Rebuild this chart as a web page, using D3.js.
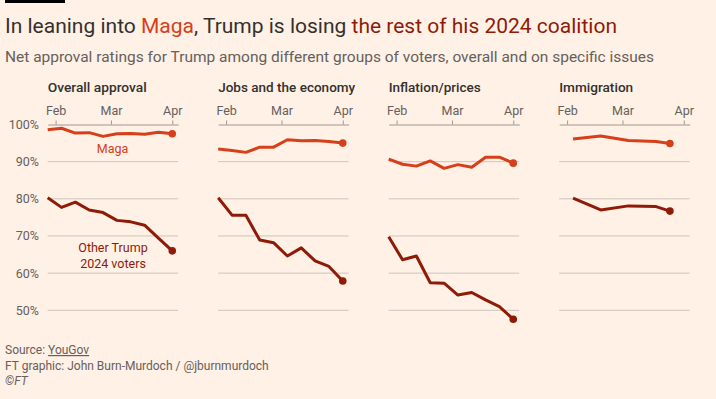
<!DOCTYPE html>
<html>
<head>
<meta charset="utf-8">
<script src="https://cdn.jsdelivr.net/npm/d3@7"></script>
<style>
  html, body { margin: 0; padding: 0; background: #fff1e5; }
  svg { display: block; }
  text { font-family: Roboto, "Noto Sans", sans-serif; }
</style>
</head>
<body>
<svg id="chart" width="716" height="399"></svg>
<script>
// ---------- data ----------
const panelTitles = ["Overall approval", "Jobs and the economy", "Inflation/prices", "Immigration"];
const weeklyDates = ["2025-01-28","2025-02-04","2025-02-11","2025-02-18","2025-02-25",
                     "2025-03-04","2025-03-11","2025-03-18","2025-03-25","2025-04-01"];
const immigrationDates = ["2025-02-04","2025-02-18","2025-03-04","2025-03-18","2025-03-25"];

const magaOverall   = [98.6, 99.0, 97.7, 97.8, 96.8, 97.5, 97.6, 97.4, 97.9, 97.5];
const otherOverall  = [80.3, 77.7, 79.1, 77.0, 76.3, 74.2, 73.8, 72.9, 69.4, 66.0];
const magaJobs      = [93.4, 93.0, 92.5, 93.9, 93.9, 95.9, 95.6, 95.7, 95.4, 95.0];
const otherJobs     = [80.3, 75.6, 75.6, 68.9, 68.2, 64.6, 66.8, 63.3, 61.8, 57.9];
const magaInflation = [90.7, 89.3, 88.8, 90.2, 88.2, 89.2, 88.5, 91.2, 91.2, 89.6];
const otherInflation= [69.8, 63.6, 64.6, 57.4, 57.3, 54.1, 54.8, 52.8, 51.0, 47.6];
const magaImmigration  = [96.1, 96.9, 95.7, 95.4, 94.9];
const otherImmigration = [80.2, 77.0, 78.1, 77.9, 76.7];

const yTickValues = [50, 60, 70, 80, 90, 100];
const xTickDates  = ["2025-02-01", "2025-03-01", "2025-04-01"];
const xTickLabels = ["Feb", "Mar", "Apr"];

const seriesNames = ["Maga", "Other Trump 2024 voters"];

// ---------- build ----------
const parse = d3.timeParse("%Y-%m-%d");
const panels = [
  { title: panelTitles[0], dates: weeklyDates, maga: magaOverall, other: otherOverall },
  { title: panelTitles[1], dates: weeklyDates, maga: magaJobs, other: otherJobs },
  { title: panelTitles[2], dates: weeklyDates, maga: magaInflation, other: otherInflation },
  { title: panelTitles[3], dates: immigrationDates, maga: magaImmigration, other: otherImmigration }
];

const C = {
  bg: "#fff1e5", text: "#33302e", muted: "#66605c",
  maga: "#d5401b", other: "#8e1b08",
  grid: "#cfc5bb", axis: "#a0978f"
};

const svg = d3.select("#chart");
svg.append("rect").attr("width", 716).attr("height", 399).attr("fill", C.bg);
svg.append("rect").attr("x", 5).attr("y", 0).attr("width", 60).attr("height", 3).attr("fill", "#000");

// title
const title = svg.append("text").attr("x", 5).attr("y", 33.3)
  .attr("font-size", 21).attr("fill", C.text)
  .attr("textLength", 612).attr("lengthAdjust", "spacingAndGlyphs");
title.append("tspan").text("In leaning into ");
title.append("tspan").attr("fill", C.maga).text("Maga");
title.append("tspan").text(", Trump is losing ");
title.append("tspan").attr("fill", C.other).text("the rest of his 2024 coalition");

svg.append("text").attr("x", 5).attr("y", 61.7)
  .attr("font-size", 15).attr("fill", C.muted)
  .attr("textLength", 649).attr("lengthAdjust", "spacingAndGlyphs")
  .text("Net approval ratings for Trump among different groups of voters, overall and on specific issues");

const y = d3.scaleLinear().domain([50, 100]).range([310.3, 124.5]);
const panelX0 = 47.7, panelStep = 170.5, panelW = 130.5;
const xDomain = [parse("2025-01-28"), parse("2025-04-04")];
const titleWidths = [99, 137, 92, 74];

panels.forEach((p, i) => {
  const x0 = panelX0 + i * panelStep;
  const x = d3.scaleTime().domain(xDomain).range([x0, x0 + panelW]);
  const g = svg.append("g");

  g.append("text").attr("x", x0).attr("y", 92.3)
    .attr("font-size", 13.5).attr("font-weight", 500).attr("fill", C.text)
    .attr("textLength", titleWidths[i]).attr("lengthAdjust", "spacingAndGlyphs")
    .text(p.title);

  // gridlines
  g.selectAll("line.grid").data(yTickValues.filter(v => v < 100)).join("line")
    .attr("class", "grid")
    .attr("x1", x0).attr("x2", x0 + panelW)
    .attr("y1", d => y(d)).attr("y2", d => y(d))
    .attr("stroke", C.grid).attr("stroke-width", 1);

  // top axis
  const axis = d3.axisTop(x)
    .tickValues(xTickDates.map(parse))
    .tickFormat((d, j) => xTickLabels[j])
    .tickSize(4).tickPadding(6).tickSizeOuter(0);
  const ag = g.append("g").attr("transform", `translate(0,${y(100)})`).call(axis);
  ag.select(".domain").attr("stroke", C.axis);
  ag.selectAll(".tick line").attr("stroke", C.axis);
  ag.selectAll(".tick text").attr("fill", C.muted).attr("font-size", 12.5)
    .attr("font-family", "Roboto, 'Noto Sans', sans-serif");

  // lines
  const line = d3.line().x((d, j) => x(parse(p.dates[j]))).y(d => y(d));
  [["other", C.other], ["maga", C.maga]].forEach(([key, col]) => {
    g.append("path").datum(p[key]).attr("d", line)
      .attr("fill", "none").attr("stroke", col).attr("stroke-width", 3)
      .attr("stroke-linejoin", "round").attr("stroke-linecap", "butt");
    const n = p[key].length - 1;
    g.append("circle")
      .attr("cx", x(parse(p.dates[n]))).attr("cy", y(p[key][n]))
      .attr("r", 3.8).attr("fill", col);
  });

  if (i === 0) {
    g.selectAll("text.ylab").data(yTickValues).join("text")
      .attr("class", "ylab")
      .attr("x", 39).attr("y", d => y(d)).attr("dy", "0.36em")
      .attr("text-anchor", "end").attr("font-size", 12.5).attr("fill", C.muted)
      .text(d => d + "%");

    g.append("text").attr("x", 112.5).attr("y", 153.3).attr("text-anchor", "middle")
      .attr("font-size", 12.5).attr("fill", C.maga).text(seriesNames[0]);
    const ot = g.append("text").attr("text-anchor", "middle")
      .attr("font-size", 12.5).attr("fill", C.other);
    ot.append("tspan").attr("x", 113).attr("y", 251.7).text("Other Trump");
    ot.append("tspan").attr("x", 113).attr("y", 268.3).text("2024 voters");
  }
});

// footer
const f1 = svg.append("text").attr("x", 5).attr("y", 354).attr("font-size", 12).attr("fill", C.muted);
f1.append("tspan").text("Source: ");
f1.append("tspan").attr("text-decoration", "underline").text("YouGov");
svg.append("text").attr("x", 5).attr("y", 369.5).attr("font-size", 12).attr("fill", C.muted)
  .text("FT graphic: John Burn-Murdoch / @jburnmurdoch");
svg.append("text").attr("x", 5).attr("y", 385).attr("font-size", 12).attr("fill", C.muted)
  .attr("font-style", "italic").text("©FT");
</script>
</body>
</html>
